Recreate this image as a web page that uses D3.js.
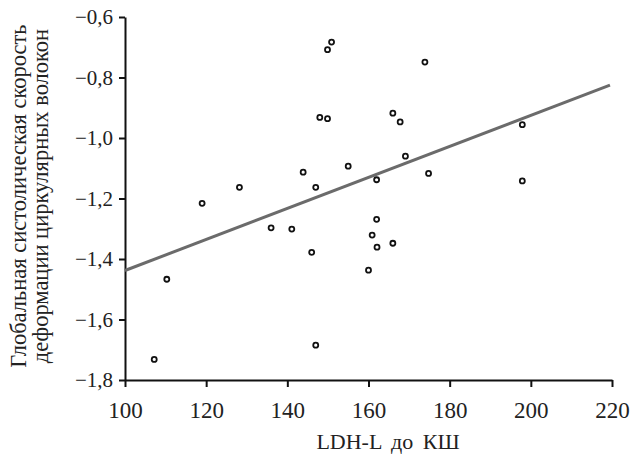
<!DOCTYPE html>
<html>
<head>
<meta charset="utf-8">
<script src="https://cdn.jsdelivr.net/npm/d3@7"></script>
<style>
  body { margin: 0; background: #fff; }
  text { font-family: "Liberation Serif", "DejaVu Serif", serif; fill: #222; }
</style>
</head>
<body>
<div id="chart"></div>
<script>
var width = 632;
var height = 466;
var marginLeft = 125;
var marginTop = 17;
var plotW = 487;
var plotH = 363;
var serif = '"Liberation Serif", "DejaVu Serif", serif';

// LDH-L до КШ
var ldh = [107.2, 110.3, 119.0, 128.2, 136.0, 141.1, 143.9, 146.0, 147.0, 147.0,
           148.0, 149.9, 149.9, 150.9, 155.0, 160.0, 160.9, 162.0, 162.0, 162.1,
           166.0, 166.0, 167.8, 169.1, 173.9, 174.8, 197.9, 197.9];
// глобальная систолическая скорость деформации
var strain = [-1.732, -1.467, -1.216, -1.163, -1.297, -1.301, -1.113, -1.378, -1.163, -1.685,
              -0.932, -0.936, -0.708, -0.683, -1.093, -1.437, -1.321, -1.138, -1.269, -1.361,
              -1.348, -0.918, -0.947, -1.060, -0.749, -1.117, -0.956, -1.142];

// regression line ends
var fitX = [100, 219.5];
var fitY = [-1.438, -0.825];

var xTicks = [100, 120, 140, 160, 180, 200, 220];
var yTicks = [-0.6, -0.8, -1.0, -1.2, -1.4, -1.6, -1.8];

var svg = d3.select('#chart')
    .append('svg')
    .attr('width', width)
    .attr('height', height);

var g = svg.append('g')
    .attr('transform', 'translate(' + marginLeft + ',' + marginTop + ')');

var x = d3.scaleLinear().domain([100, 220]).range([0, plotW]);
var y = d3.scaleLinear().domain([-1.8, -0.6]).range([plotH, 0]);

var fmt = function(d){ return d3.format('.1f')(d).replace('-', '\u2212').replace('.', ','); };

var xAxis = g.append('g')
    .attr('transform', 'translate(0,' + plotH + ')')
    .call(d3.axisBottom(x).tickValues(xTicks).tickSize(7).tickSizeOuter(0).tickPadding(15));

var yAxis = g.append('g')
    .call(d3.axisLeft(y).tickValues(yTicks).tickFormat(fmt).tickSize(6).tickSizeOuter(0).tickPadding(6));

[[xAxis, 23], [yAxis, 21]].forEach(function(p){
    var a = p[0];
    a.attr('font-family', serif).attr('font-size', p[1]);
    a.selectAll('path, line').attr('stroke', '#111').attr('stroke-width', 2);
    a.selectAll('text').style('font-family', serif).style('font-size', p[1] + 'px').attr('fill', '#222');
});

// trend line
var line = d3.line()
    .x(function(d){ return x(d[0]); })
    .y(function(d){ return y(d[1]); });

g.append('path')
    .datum(d3.zip(fitX, fitY))
    .attr('d', line)
    .attr('fill', 'none')
    .attr('stroke', '#6b6b6b')
    .attr('stroke-width', 3);

// points
g.selectAll('circle')
    .data(d3.zip(ldh, strain))
    .enter()
    .append('circle')
    .attr('cx', function(d){ return x(d[0]); })
    .attr('cy', function(d){ return y(d[1]); })
    .attr('r', 2.5)
    .attr('fill', '#fff')
    .attr('stroke', '#111')
    .attr('stroke-width', 1.8);

// axis titles
svg.append('text')
    .attr('x', 388)
    .attr('y', 449)
    .attr('text-anchor', 'middle')
    .style('font-size', '22px')
    .style('word-spacing', '4px')
    .text('LDH-L до КШ');

var yTitle = svg.append('text')
    .attr('transform', 'translate(0,196) rotate(-90)')
    .attr('text-anchor', 'middle')
    .style('font-size', '22.5px');

yTitle.append('tspan').attr('x', 0).attr('y', 26).text('Глобальная систолическая скорость');
yTitle.append('tspan').attr('x', 0).attr('y', 48).text('деформации циркулярных волокон');
</script>
</body>
</html>
